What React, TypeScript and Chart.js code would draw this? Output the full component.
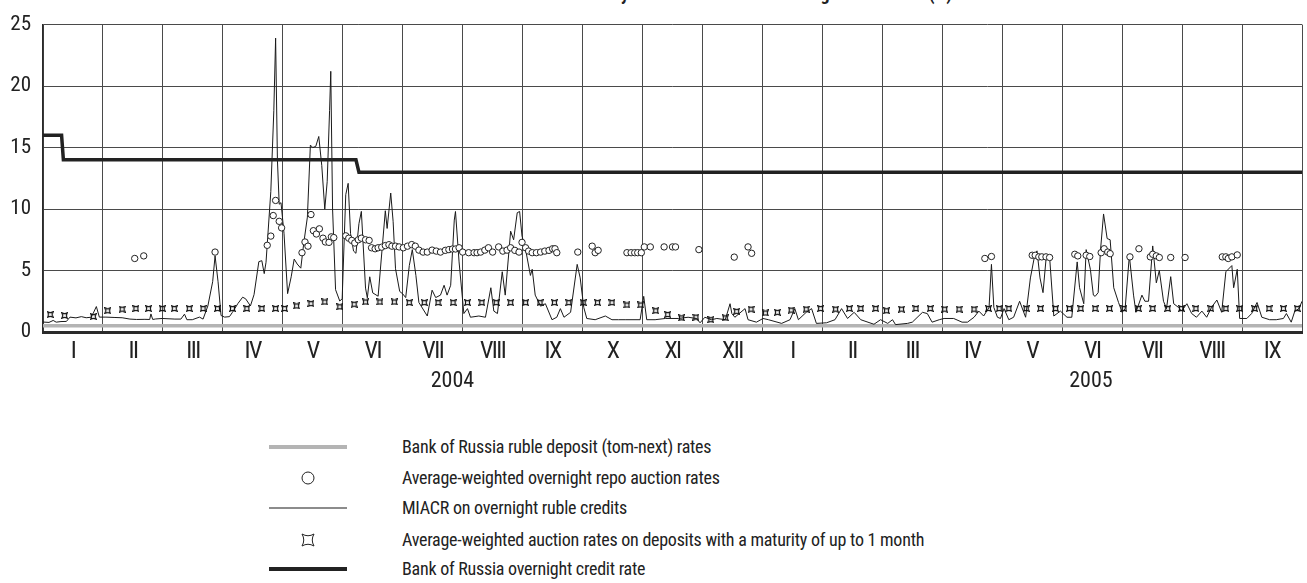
import React, { useEffect, useRef } from "react";
import { Chart, registerables } from "chart.js";

Chart.register(...registerables);

const FONT = "'Liberation Sans Narrow','Arial Narrow','Roboto Condensed','DejaVu Sans Condensed',sans-serif";

// x values are in month units: 0 = 1 Jan 2004, 12 = 1 Jan 2005, 21 = 1 Oct 2005
const monthLabels = ["I", "II", "III", "IV", "V", "VI", "VII", "VIII", "IX", "X", "XI", "XII", "I", "II", "III", "IV", "V", "VI", "VII", "VIII", "IX"];
const yearLabels = ["2004", "2005"];
const yearLabelPos = [6.83, 17.48];
const yTicks = [0, 5, 10, 15, 20, 25];

const depositRate: [number, number][] = [[0, 0.5], [21, 0.5]];

const overnightCredit: [number, number][] = [
  [0, 16], [0.31, 16], [0.34, 14], [5.22, 14], [5.27, 13], [21, 13],
];

const miacr: [number, number][] = [
  [0.00, 0.81], [0.10, 0.78], [0.17, 0.94], [0.22, 0.80], [0.30, 0.85], [0.39, 0.86], [0.45, 1.21], [0.55, 1.15],
  [0.64, 1.25], [0.72, 1.16], [0.80, 1.20], [0.84, 1.55], [0.89, 2.07], [0.94, 1.21], [1.05, 1.21], [1.20, 1.18],
  [1.32, 1.16], [1.45, 1.05], [1.56, 1.02], [1.70, 1.03], [1.78, 1.02], [1.80, 1.47], [1.83, 1.02], [1.88, 1.06],
  [1.99, 1.10], [2.20, 1.05], [2.30, 1.05], [2.36, 1.45], [2.40, 1.00], [2.49, 1.00], [2.61, 1.21], [2.67, 1.05],
  [2.75, 2.12], [2.83, 4.09], [2.87, 6.19], [2.92, 4.09], [2.97, 1.34], [3.03, 1.21], [3.11, 1.25], [3.16, 1.60],
  [3.25, 2.31], [3.33, 2.83], [3.38, 2.70], [3.46, 2.12], [3.52, 3.04], [3.60, 5.72], [3.65, 5.80], [3.69, 4.75],
  [3.72, 5.67], [3.80, 11.43], [3.85, 18.0], [3.88, 23.9], [3.91, 14.0], [3.94, 10.39], [3.97, 10.52], [4.02, 8.03],
  [4.08, 3.12], [4.14, 4.49], [4.19, 5.93], [4.24, 5.53], [4.30, 5.19], [4.35, 7.24], [4.41, 9.34], [4.46, 15.2],
  [4.50, 15.0], [4.55, 15.1], [4.60, 15.9], [4.65, 13.53], [4.70, 9.99], [4.74, 12.22], [4.78, 18.0], [4.80, 21.2],
  [4.83, 10.0], [4.88, 3.44], [4.95, 2.52], [4.99, 2.7], [5.05, 11.17], [5.09, 12.09], [5.13, 8.0], [5.18, 6.58],
  [5.22, 6.4], [5.27, 8.81], [5.31, 9.81], [5.38, 3.57], [5.41, 2.78], [5.45, 4.49], [5.50, 3.18], [5.59, 2.91],
  [5.71, 9.86], [5.74, 8.42], [5.80, 11.3], [5.84, 9.0], [5.88, 5.14], [5.95, 3.3], [6.00, 3.1], [6.05, 2.8],
  [6.11, 5.4], [6.16, 6.7], [6.22, 4.6], [6.27, 2.4], [6.41, 1.3], [6.49, 3.4], [6.55, 2.8], [6.63, 3.0],
  [6.69, 3.8], [6.74, 3.0], [6.80, 3.8], [6.86, 9.1], [6.88, 9.8], [6.94, 5.7], [7.02, 1.5], [7.08, 1.9],
  [7.13, 1.2], [7.27, 1.3], [7.38, 1.2], [7.47, 3.6], [7.52, 1.7], [7.58, 1.5], [7.66, 4.9], [7.71, 3.0],
  [7.80, 8.2], [7.85, 7.5], [7.91, 9.7], [7.95, 9.8], [7.99, 7.8], [8.05, 6.7], [8.13, 4.6], [8.16, 5.1],
  [8.21, 3.0], [8.30, 2.1], [8.38, 2.3], [8.49, 1.0], [8.57, 1.2], [8.63, 1.9], [8.69, 1.2], [8.80, 1.6],
  [8.91, 5.5], [8.96, 4.4], [9.02, 2.0], [9.07, 1.1], [9.21, 1.0], [9.38, 1.3], [9.49, 1.0], [9.60, 1.0],
  [9.71, 1.0], [9.96, 1.0], [10.02, 2.9], [10.07, 1.0], [10.21, 1.0], [10.38, 1.1], [10.60, 1.1], [10.76, 1.2],
  [10.90, 1.1], [10.96, 0.75], [11.04, 1.2], [11.15, 1.0], [11.24, 1.1], [11.38, 1.0], [11.46, 2.3], [11.49, 1.5],
  [11.54, 1.2], [11.71, 1.9], [11.76, 1.0], [11.90, 0.8], [12.01, 1.1], [12.10, 1.0], [12.32, 0.7], [12.46, 1.0],
  [12.54, 1.9], [12.60, 1.0], [12.73, 1.6], [12.82, 1.9], [12.90, 0.7], [13.07, 0.75], [13.21, 1.0], [13.32, 1.9],
  [13.42, 1.1], [13.53, 1.6], [13.64, 1.0], [13.86, 0.63], [13.97, 1.0], [14.09, 0.7], [14.17, 1.0], [14.22, 0.6],
  [14.42, 0.7], [14.50, 0.8], [14.67, 1.6], [14.75, 1.5], [14.83, 0.8], [14.95, 1.0], [15.03, 1.1], [15.19, 1.1],
  [15.33, 0.8], [15.42, 0.8], [15.53, 1.2], [15.61, 1.7], [15.69, 1.3], [15.78, 2.0], [15.82, 5.5], [15.86, 2.0],
  [15.92, 1.2], [15.97, 1.1], [16.03, 1.9], [16.11, 1.0], [16.19, 1.2], [16.29, 2.5], [16.39, 1.2], [16.47, 4.4],
  [16.54, 6.2], [16.58, 6.6], [16.63, 4.4], [16.68, 3.2], [16.73, 5.9], [16.79, 6.1], [16.86, 1.3], [16.97, 1.7],
  [17.08, 1.2], [17.16, 1.2], [17.25, 5.7], [17.29, 3.6], [17.36, 2.3], [17.40, 6.7], [17.47, 5.1], [17.52, 3.0],
  [17.55, 2.9], [17.60, 3.2], [17.64, 6.7], [17.69, 9.6], [17.75, 7.6], [17.80, 7.5], [17.86, 3.6], [17.94, 2.4],
  [18.00, 1.6], [18.05, 1.9], [18.12, 6.2], [18.19, 3.0], [18.23, 1.6], [18.33, 3.0], [18.38, 2.5], [18.44, 2.5],
  [18.51, 7.0], [18.57, 4.0], [18.62, 5.0], [18.69, 2.5], [18.74, 1.9], [18.81, 4.5], [18.86, 2.3], [18.94, 2.0],
  [18.99, 1.7], [19.08, 2.3], [19.16, 1.5], [19.24, 1.2], [19.33, 1.7], [19.41, 1.2], [19.49, 2.0], [19.58, 2.6],
  [19.66, 1.6], [19.73, 4.9], [19.83, 5.4], [19.86, 3.6], [19.92, 5.1], [19.96, 1.1], [20.08, 1.1], [20.16, 1.5],
  [20.25, 2.4], [20.33, 1.2], [20.46, 1.0], [20.57, 1.0], [20.69, 1.1], [20.74, 1.5], [20.82, 0.8], [20.88, 1.7],
  [20.95, 1.9], [21.0, 2.5],
];

const repoRates: [number, number][] = [
  [1.53, 5.98], [1.68, 6.19], [2.87, 6.5], [3.74, 7.05], [3.80, 7.8], [3.84, 9.47], [3.88, 10.7], [3.94, 9.0],
  [3.98, 8.47], [4.32, 6.45], [4.37, 7.32], [4.42, 6.98], [4.47, 9.55], [4.51, 8.24], [4.56, 7.97], [4.61, 8.39],
  [4.67, 7.63], [4.71, 7.32], [4.77, 7.29], [4.81, 7.74], [4.85, 7.68], [5.05, 7.82], [5.10, 7.63], [5.15, 7.45],
  [5.20, 7.24], [5.26, 7.5], [5.31, 7.63], [5.38, 7.5], [5.44, 7.45], [5.48, 6.85], [5.54, 6.77], [5.59, 6.85],
  [5.65, 6.9], [5.71, 7.03], [5.77, 7.1], [5.82, 6.98], [5.88, 6.98], [5.94, 6.92], [6.01, 6.85], [6.08, 6.98],
  [6.15, 7.11], [6.21, 6.98], [6.27, 6.66], [6.34, 6.5], [6.41, 6.5], [6.49, 6.66], [6.56, 6.58], [6.63, 6.5],
  [6.71, 6.64], [6.77, 6.7], [6.83, 6.75], [6.88, 6.75], [6.94, 6.85], [7.00, 6.5], [7.10, 6.45], [7.19, 6.45],
  [7.24, 6.45], [7.30, 6.5], [7.37, 6.66], [7.43, 6.85], [7.50, 6.5], [7.60, 6.92], [7.67, 6.58], [7.74, 6.66],
  [7.80, 6.85], [7.87, 6.64], [7.94, 6.5], [7.99, 7.29], [8.05, 6.85], [8.10, 6.58], [8.16, 6.45], [8.23, 6.45],
  [8.30, 6.5], [8.37, 6.58], [8.44, 6.64], [8.50, 6.77], [8.54, 6.77], [8.57, 6.45], [8.92, 6.5], [9.16, 6.98],
  [9.21, 6.45], [9.26, 6.64], [9.74, 6.45], [9.81, 6.45], [9.87, 6.45], [9.92, 6.45], [9.98, 6.45], [10.03, 6.92],
  [10.13, 6.92], [10.36, 6.92], [10.50, 6.92], [10.55, 6.92], [10.94, 6.7], [11.53, 6.09], [11.76, 6.92], [11.82, 6.4],
  [15.71, 5.98], [15.82, 6.14], [16.50, 6.24], [16.55, 6.24], [16.61, 6.11], [16.66, 6.11], [16.73, 6.11], [16.79, 6.06],
  [17.21, 6.32], [17.26, 6.19], [17.40, 6.24], [17.46, 6.14], [17.65, 6.45], [17.70, 6.77], [17.76, 6.5], [17.80, 6.37],
  [18.13, 6.11], [18.28, 6.77], [18.47, 6.11], [18.51, 6.32], [18.57, 6.19], [18.62, 6.06], [18.81, 6.06], [19.05, 6.06],
  [19.67, 6.11], [19.73, 6.11], [19.77, 5.98], [19.83, 6.11], [19.92, 6.27],
];

const depositAuction: [number, number][] = [
  [0.12, 1.42], [0.36, 1.34], [0.84, 1.26], [1.08, 1.73], [1.32, 1.86], [1.55, 1.91], [1.76, 1.91], [1.99, 1.91],
  [2.19, 1.91], [2.44, 1.91], [2.67, 1.91], [2.91, 1.91], [3.16, 1.91], [3.40, 1.91], [3.65, 1.91], [3.88, 1.91],
  [4.03, 1.91], [4.23, 2.12], [4.47, 2.31], [4.70, 2.44], [4.95, 2.05], [5.19, 2.26], [5.38, 2.44], [5.62, 2.44],
  [5.86, 2.44], [6.11, 2.39], [6.36, 2.39], [6.59, 2.39], [6.84, 2.39], [7.08, 2.39], [7.32, 2.39], [7.56, 2.39],
  [7.80, 2.39], [8.05, 2.39], [8.29, 2.39], [8.53, 2.39], [8.77, 2.39], [9.01, 2.39], [9.25, 2.39], [9.49, 2.39],
  [9.74, 2.2], [9.97, 2.2], [10.22, 1.73], [10.42, 1.42], [10.65, 1.15], [10.89, 1.21], [11.14, 1.0], [11.38, 1.15],
  [11.57, 1.68], [11.81, 1.86], [12.05, 1.55], [12.25, 1.6], [12.48, 1.78], [12.73, 1.86], [12.97, 1.91], [13.22, 1.86],
  [13.45, 1.91], [13.64, 1.91], [13.89, 1.91], [14.07, 1.73], [14.32, 1.86], [14.56, 1.91], [14.80, 1.91], [15.04, 1.86],
  [15.28, 1.86], [15.53, 1.86], [15.77, 1.91], [15.95, 1.91], [16.11, 1.91], [16.40, 1.91], [16.64, 1.91], [16.89, 1.91],
  [17.12, 1.91], [17.31, 1.91], [17.55, 1.91], [17.79, 1.91], [18.03, 1.91], [18.27, 1.91], [18.51, 1.91], [18.76, 1.91],
  [18.99, 1.91], [19.23, 1.91], [19.48, 1.91], [19.73, 1.91], [19.96, 1.91], [20.21, 1.91], [20.45, 1.91], [20.69, 1.91],
  [20.92, 1.91],
];

const seriesNames = [
  "Bank of Russia ruble deposit (tom-next) rates",
  "Average-weighted overnight repo auction rates",
  "MIACR on overnight ruble credits",
  "Average-weighted auction rates on deposits with a maturity of up to 1 month",
  "Bank of Russia overnight credit rate",
];

const titleText = "Dynamics of interbank lending market rates (%)";

const toXY = (arr: [number, number][]) => arr.map(([x, y]) => ({ x, y }));

function makeStarCanvas(size: number): HTMLCanvasElement {
  const c = document.createElement("canvas");
  c.width = size;
  c.height = size;
  const ctx = c.getContext("2d")!;
  const cx = size / 2;
  const r = size / 2 - 0.7;
  ctx.beginPath();
  ctx.moveTo(cx - r, cx - r);
  ctx.quadraticCurveTo(cx, cx - r * 0.35, cx + r, cx - r);
  ctx.quadraticCurveTo(cx + r * 0.35, cx, cx + r, cx + r);
  ctx.quadraticCurveTo(cx, cx + r * 0.35, cx - r, cx + r);
  ctx.quadraticCurveTo(cx - r * 0.35, cx, cx - r, cx - r);
  ctx.closePath();
  ctx.lineWidth = 1.2;
  ctx.strokeStyle = "#111";
  ctx.stroke();
  return c;
}

function tightLabels(spacing: string) {
  return (s: any) => {
    if (s.__tight) return;
    s.__tight = true;
    const orig = s.drawLabels.bind(s);
    s.drawLabels = (area: any) => {
      const ctx: any = s.ctx;
      const prev = ctx.letterSpacing;
      ctx.letterSpacing = spacing;
      orig(area);
      ctx.letterSpacing = prev || "0px";
    };
  };
}

const STAR_PATH = "M1,1 Q7,4.5 13,1 Q9.5,7 13,13 Q7,9.5 1,13 Q4.5,7 1,1 Z";

export default function App() {
  const ref = useRef<HTMLCanvasElement | null>(null);

  useEffect(() => {
    if (!ref.current) return;
    const star = makeStarCanvas(7);
    const tightMonths = tightLabels("-1.5px");
    const chart = new Chart(ref.current, {
      type: "line",
      data: {
        datasets: [
          {
            label: seriesNames[4],
            data: toXY(overnightCredit),
            borderColor: "#222",
            borderWidth: 3.5,
            pointRadius: 0,
            tension: 0,
            order: 0,
          },
          {
            label: seriesNames[3],
            data: toXY(depositAuction),
            showLine: false,
            pointStyle: star as any,
            pointRadius: 3.5,
            order: 1,
          },
          {
            label: seriesNames[1],
            data: toXY(repoRates),
            showLine: false,
            pointStyle: "circle",
            pointRadius: 3.2,
            pointBorderWidth: 1,
            pointBorderColor: "#222",
            pointBackgroundColor: "#fff",
            order: 2,
          },
          {
            label: seriesNames[2],
            data: toXY(miacr),
            borderColor: "#1a1a1a",
            borderWidth: 1,
            pointRadius: 0,
            tension: 0,
            order: 3,
          },
          {
            label: seriesNames[0],
            data: toXY(depositRate),
            borderColor: "#b4b4b4",
            borderWidth: 3.5,
            pointRadius: 0,
            order: 4,
          },
        ],
      },
      options: {
        animation: false,
        responsive: false,
        devicePixelRatio: 1,
        layout: { padding: { top: 14, right: 2, bottom: 1, left: 0 } },
        plugins: { legend: { display: false }, tooltip: { enabled: false }, title: { display: false } },
        scales: {
          x: {
            type: "linear",
            position: "bottom",
            min: 0,
            max: 21,
            afterBuildTicks: (s: any) => {
              s.ticks = monthLabels.map((_, i) => ({ value: i })).concat([{ value: 21 }]);
            },
            afterFit: (s: any) => {
              s.height = 1;
            },
            grid: { color: "#4a4a4a", lineWidth: 1, drawTicks: false },
            border: { display: true, color: "#2a2a2a", width: 3 },
            ticks: { display: false },
          },
          xm: {
            type: "linear",
            position: "bottom",
            axis: "x",
            min: 0,
            max: 21,
            afterBuildTicks: (s: any) => {
              s.ticks = monthLabels.map((_, i) => ({ value: i + 0.5 }));
            },
            afterFit: (s: any) => {
              s.height = 32;
              tightMonths(s);
            },
            grid: { display: false, drawTicks: false },
            border: { display: false },
            ticks: {
              autoSkip: false,
              maxRotation: 0,
              minRotation: 0,
              padding: 5,
              color: "#222",
              font: { family: FONT, size: 24 },
              callback: (_v: any, i: number) => monthLabels[i],
            },
          },
          xy: {
            type: "linear",
            position: "bottom",
            axis: "x",
            min: 0,
            max: 21,
            afterBuildTicks: (s: any) => {
              s.ticks = yearLabelPos.map((v) => ({ value: v }));
            },
            afterFit: (s: any) => {
              s.height = 34;
            },
            grid: { display: false, drawTicks: false },
            border: { display: false },
            ticks: {
              autoSkip: false,
              maxRotation: 0,
              minRotation: 0,
              padding: 3,
              color: "#222",
              font: { family: FONT, size: 22 },
              callback: (_v: any, i: number) => yearLabels[i],
            },
          },
          y: {
            type: "linear",
            min: 0,
            max: 25,
            afterBuildTicks: (s: any) => {
              s.ticks = yTicks.map((v) => ({ value: v }));
            },
            afterFit: (s: any) => {
              s.width = 43;
            },
            grid: { color: "#4a4a4a", lineWidth: 1, drawTicks: false },
            border: { display: true, color: "#2a2a2a", width: 1.5 },
            ticks: {
              padding: 12,
              color: "#222",
              font: { family: FONT, size: 21 },
            },
          },
        },
      },
    });
    return () => chart.destroy();
  }, []);

  const rowY = [447, 478, 508, 540, 569];
  const symbol = (i: number) => {
    if (i === 0) return <div style={{ width: 78, height: 4, background: "#b4b4b4" }} />;
    if (i === 2) return <div style={{ width: 78, height: 2, background: "#8c8c8c" }} />;
    if (i === 4) return <div style={{ width: 78, height: 4, background: "#222" }} />;
    if (i === 1)
      return (
        <svg width="14" height="14" viewBox="0 0 14 14">
          <circle cx="7" cy="7" r="6" fill="none" stroke="#222" strokeWidth="1" />
        </svg>
      );
    return (
      <svg width="14" height="14" viewBox="0 0 14 14">
        <path d={STAR_PATH} fill="none" stroke="#222" strokeWidth="1" />
      </svg>
    );
  };

  return (
    <div
      style={{
        position: "absolute",
        left: 0,
        top: 0,
        width: 1307,
        height: 583,
        overflow: "hidden",
        background: "#fff",
        fontFamily: FONT,
      }}
    >
      <div
        style={{
          position: "absolute",
          left: 0,
          top: -15,
          width: 952,
          textAlign: "right",
          fontSize: 18,
          lineHeight: "18px",
          fontWeight: "bold",
          color: "#222",
          whiteSpace: "nowrap",
        }}
      >
        {titleText}
      </div>
      <canvas ref={ref} width={1307} height={400} style={{ position: "absolute", left: 0, top: 0 }} />
      {seriesNames.map((name, i) => (
        <div
          key={i}
          style={{
            position: "absolute",
            left: 269,
            top: rowY[i] - 11,
            height: 22,
            display: "flex",
            alignItems: "center",
          }}
        >
          <div style={{ width: 78, display: "flex", justifyContent: "center", alignItems: "center" }}>{symbol(i)}</div>
          <div
            style={{
              position: "absolute",
              left: 133,
              top: 0,
              height: 22,
              lineHeight: "22px",
              fontSize: 18,
              letterSpacing: "-0.25px",
              color: "#222",
              whiteSpace: "nowrap",
            }}
          >
            {name}
          </div>
        </div>
      ))}
    </div>
  );
}
